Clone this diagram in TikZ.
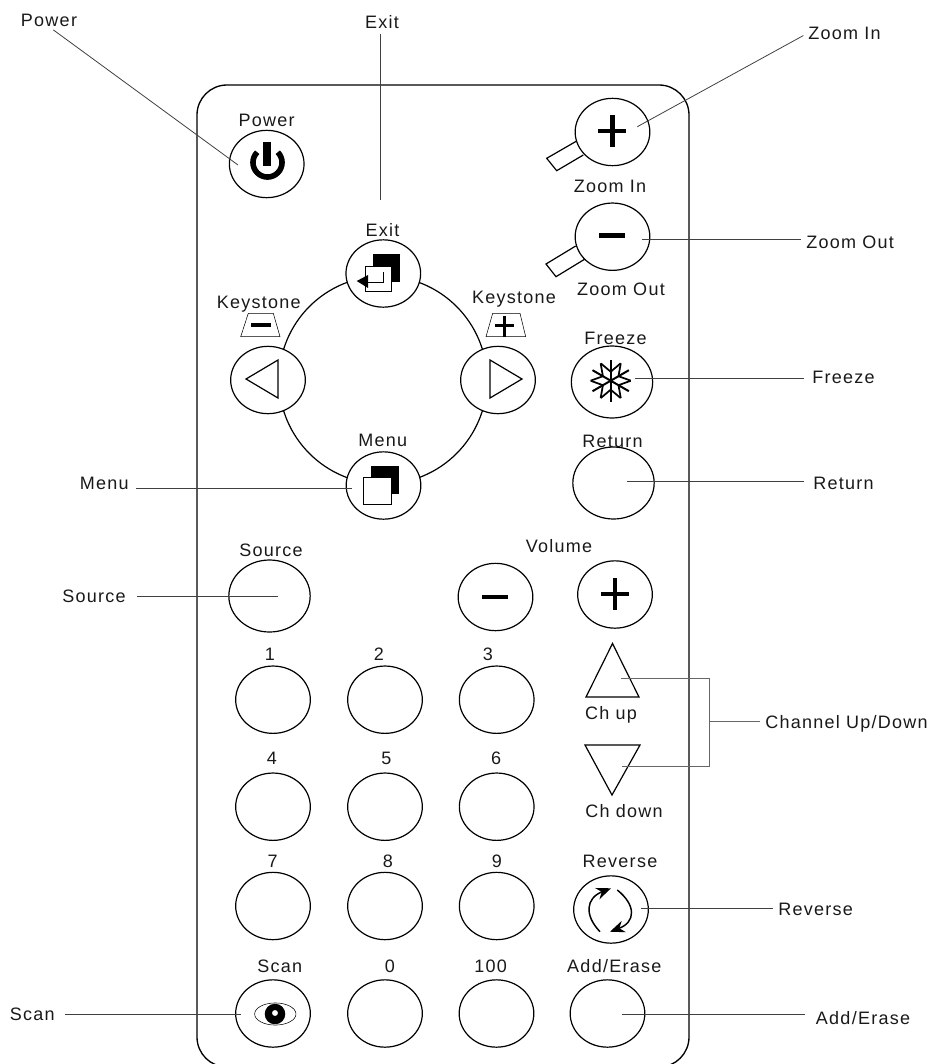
\documentclass[tikz,border=0pt]{standalone}
\usepackage{fontspec}
\setmainfont{Liberation Sans}[LetterSpace=7]
\usetikzlibrary{arrows.meta,shapes.geometric}

\tikzset{
    btn/.style={ellipse,draw,fill=white,line width=0.9pt,inner sep=0pt,minimum width=56pt,minimum height=50.5pt},
    bigbtn/.style={btn,minimum width=61pt,minimum height=54pt},
    lbl/.style={inner sep=0pt,text height=9.7pt,text depth=0pt,text=black!90,font=\fontsize{13.5pt}{15pt}\selectfont},
    leader/.style={line width=0.6pt,black!75,shorten >=4pt},
    outline/.style={line width=0.9pt},
    icon/.style={line width=3.4pt},
}

\begin{document}
\begin{tikzpicture}[x=0.75pt,y=-0.75pt]
    \useasboundingbox (0,0) rectangle (931,1064);
    \clip (0,0) rectangle (931,1064);

    % body and ring
    \draw[line width=1pt,rounded corners=22.5pt] (197,85) rectangle (689,1067);
    \draw[outline] (383,380) circle [radius=78pt];

    % top buttons
    \node[btn] (power) at (266.7,164) {};
    \node[btn] (exit) at (383.3,273.5) {};
    \node[btn] (keyLeft) at (268,380) {};
    \node[btn] (keyRight) at (498,380) {};
    \node[btn] (menu) at (383.5,485.5) {};
    \node[bigbtn] (freeze) at (612,382) {};
    \node[bigbtn] (return) at (613.5,483) {};
    \node[bigbtn] (source) at (269.5,596) {};
    \node[btn] (volMinus) at (495.5,597) {};
    \node[btn] (volPlus) at (615,594.5) {};

    % zoom handles go under the buttons
    \draw[outline,fill=white] (576.7,141)--(546.7,158.3)--(556.7,170.7)--(583.3,155);
    \draw[outline,fill=white] (575.7,246)--(546,264)--(556,276.7)--(585,259);
    \node[btn] (zoomIn) at (612.5,132) {};
    \node[btn] (zoomOut) at (612.5,236.7) {};

    % number buttons
    \foreach \n/\x/\y/\lx/\ly in {1/273/699.7/270/654, 2/385/699.7/379/654, 3/496.7/699.7/488/654,
        4/273/806.7/272/758, 5/385/806.7/386.5/758, 6/496.7/806.7/496/758,
        7/273/906/272.7/861, 8/385/906/388/861, 9/496.7/906/497/861,
        0/385/1013.5/390/965.7} {
        \node[btn] (num\n) at (\x,\y) {};
        \node[lbl] (numLabel\n) at (\lx,\ly) {\n};
    }
    \node[btn] (scan) at (273,1013.5) {};
    \node[btn] (hundred) at (496.5,1013.5) {};
    \node[btn] (addErase) at (607.5,1013.5) {};
    \node[btn] (reverse) at (611,909.5) {};

    % channel triangles
    \draw[outline] (612.5,643.5)--(586,697)--(639,697)--cycle;
    \draw[outline] (585,745)--(640,745)--(612,795)--cycle;

    % power icon
    \draw[line width=4.2pt] (267.5,162.5) ++(135:10.9pt) arc [start angle=135, end angle=405, radius=10.9pt];
    \fill (262.7,141.7) rectangle (270.7,166);

    % exit icon
    \fill (372.7,254) rectangle (400,282);
    \draw[fill=white] (365,266) rectangle (391.7,291.7);
    \draw (368,282)--(383.3,282)--(383.3,272);
    \fill (356.7,281)--(368,275)--(368,288)--cycle;

    % menu icon
    \fill (370.7,466) rectangle (399,494);
    \draw[fill=white] (363.7,477.7) rectangle (391,504.3);

    % keystone icons
    \draw (240.7,336.7)--(280,336.7)--(273.3,313.3)--(248.3,313.3)--cycle;
    \draw (486,336.7)--(525.7,336.7)--(520,313.3)--(492.7,313.3)--cycle;
    \draw[line width=3.4pt] (251,325)--(270.7,325);
    \draw[line width=2.6pt] (495,325.7)--(514,325.7);
    \draw[line width=2.6pt] (504.3,315.7)--(504.3,337);
    \draw[outline] (246,379)--(278,360)--(278,398)--cycle;
    \draw[outline] (522,379)--(490,360)--(490,398)--cycle;

    % plus and minus signs
    \draw[icon] (598,131)--(626,131);
    \draw[icon] (612.3,115)--(612.3,147);
    \draw[icon] (599,235.7)--(625,235.7);
    \draw[icon] (482,597)--(508,597);
    \draw[icon] (601,594)--(629,594);
    \draw[icon] (615,578)--(615,610);

    % freeze icon
    \begin{scope}[shift={(610.7,380.7)}]
    \foreach \a in {30,90,...,330} {
        \draw[line width=1.5pt] (0,0)--(\a:21);
        \draw[line width=1.3pt] (\a:9)--+(\a+50:13);
        \draw[line width=1.3pt] (\a:9)--+(\a-50:13);
    }
    \end{scope}

    % scan icon
    \draw (275.3,1014) ellipse [x radius=15.5pt, y radius=8.3pt];
    \fill (275,1014) circle (7.7pt);
    \fill[white] (275,1013) circle (2.2pt);

    % reverse icon
    \draw[line width=1.1pt,-{Stealth[length=11pt,width=9pt]}] (600,931.7) .. controls (584,915) and (586,898) .. (611,888.3);
    \draw[line width=1.1pt,-{Stealth[length=11pt,width=9pt]}] (617.3,890) .. controls (636,905) and (636,922) .. (610,931.7);

    % labels on the body
    \node[lbl] (powerName) at (266.7,120) {Power};
    \node[lbl] (exitName) at (382.5,230) {Exit};
    \node[lbl] (keyLeftName) at (258.7,301.7) {Keystone};
    \node[lbl] (keyRightName) at (514,297) {Keystone};
    \node[lbl] (menuName) at (382.7,440) {Menu};
    \node[lbl] (zoomInName) at (610,186) {Zoom In};
    \node[lbl] (zoomOutName) at (621,289) {Zoom Out};
    \node[lbl] (freezeName) at (615.5,337.7) {Freeze};
    \node[lbl] (returnName) at (612.5,441) {Return};
    \node[lbl] (sourceName) at (271,550) {Source};
    \node[lbl] (volumeName) at (559,546) {Volume};
    \node[lbl] (chUpName) at (611,712.7) {Ch up};
    \node[lbl] (chDownName) at (624,810.7) {Ch down};
    \node[lbl] (reverseName) at (620,860.7) {Reverse};
    \node[lbl] (scanName) at (279.7,965.7) {Scan};
    \node[lbl] (hundredName) at (490.7,965.7) {100};
    \node[lbl] (addEraseName) at (614.3,965.7) {Add/Erase};

    % labels outside
    \node[lbl] (powerLabel) at (49,20) {Power};
    \node[lbl] (exitLabel) at (382,22) {Exit};
    \node[lbl,anchor=west] (zoomInLabel) at (808,33) {Zoom In};
    \node[lbl,anchor=west] (zoomOutLabel) at (806,242) {Zoom Out};
    \node[lbl,anchor=west] (freezeLabel) at (812,377.5) {Freeze};
    \node[lbl,anchor=west] (returnLabel) at (813,482.7) {Return};
    \node[lbl,anchor=west] (channelLabel) at (765,721.7) {Channel Up/Down};
    \node[lbl,anchor=west] (reverseLabel) at (778,909) {Reverse};
    \node[lbl,anchor=west] (addEraseLabel) at (815.7,1017.7) {Add/Erase};
    \node[lbl,anchor=east] (menuLabel) at (129,482.7) {Menu};
    \node[lbl,anchor=east] (sourceLabel) at (126,596) {Source};
    \node[lbl,anchor=east] (scanLabel) at (55,1014.3) {Scan};

    % leader ends
    \coordinate (powerTip) at (238,165);
    \coordinate (exitTip) at (380,200);
    \coordinate (zoomInTip) at (637.3,126.7);
    \coordinate (zoomOutTip) at (642,239);
    \coordinate (freezeTip) at (635,378);
    \coordinate (returnTip) at (627,481.7);
    \coordinate (reverseTip) at (641,908);
    \coordinate (addEraseTip) at (622,1014.3);
    \coordinate (menuTip) at (352,488);
    \coordinate (sourceTip) at (278,596.3);
    \coordinate (scanTip) at (241,1014.7);
    \coordinate (chUpTip) at (621,678);
    \coordinate (chDownTip) at (622,766);
    \coordinate (chJoin) at (709,721.7);

    % leaders
    \draw[leader] (powerTip)--(powerLabel.south);
    \draw[leader] (exitTip)--(exitLabel.south -| exitTip);
    \draw[leader] (zoomInTip)--(zoomInLabel.west);
    \draw[leader] (zoomOutTip)--(zoomOutLabel.west |- zoomOutTip);
    \draw[leader,shorten >=6pt] (freezeTip)--(freezeLabel.west |- freezeTip);
    \draw[leader,shorten >=6.5pt] (returnTip)--(returnLabel.west |- returnTip);
    \draw[leader] (reverseTip)--(reverseLabel.west |- reverseTip);
    \draw[leader,shorten >=8pt] (addEraseTip)--(addEraseLabel.west |- addEraseTip);
    \draw[leader,shorten >=5pt] (menuTip)--(menuLabel.east |- menuTip);
    \draw[leader,shorten >=8pt] (sourceTip)--(sourceLabel.east |- sourceTip);
    \draw[leader,shorten >=7.5pt] (scanTip)--(scanLabel.east |- scanTip);
    \draw[leader,shorten >=0pt,black!60] (chUpTip)--(chUpTip -| chJoin)--(chDownTip -| chJoin)--(chDownTip);
    \draw[leader,black!60] (chJoin)--(channelLabel.west);
\end{tikzpicture}
\end{document}
